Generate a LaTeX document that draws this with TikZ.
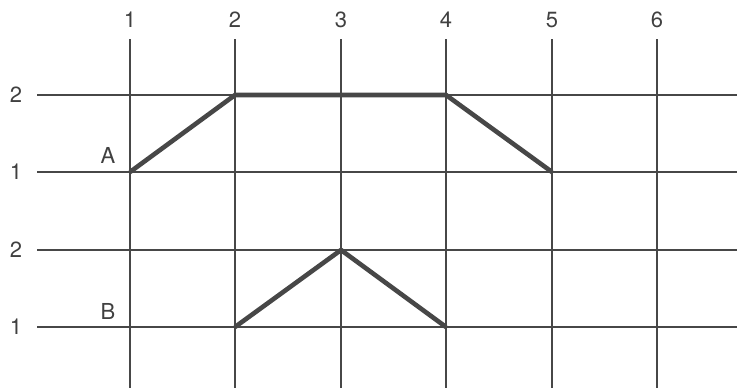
\documentclass[tikz,border=0pt]{standalone}
\usepackage{fontspec}
\setmainfont{TeX Gyre Heros}
\begin{document}
\begin{tikzpicture}[x=1pt,y=-1pt,
  gridline/.style={draw=black!72,line width=1.6pt},
  profile/.style={draw=black!72,line width=4.6pt,line join=round},
  lbl/.style={text=black!75,font=\fontsize{22}{22}\selectfont,inner sep=0pt}]
\useasboundingbox (0,0) rectangle (737,388);
% vertical grid lines and column numbers
\foreach \i/\x in {1/130,2/235,3/341,4/446,5/552,6/657}{
  \coordinate (vt\i) at (\x,39);
  \coordinate (vb\i) at (\x,388);
  \draw[gridline] (vt\i) -- (vb\i);
  \node[lbl] (col\i) at (\x,20) {\i};
}
% horizontal grid lines and row numbers
\foreach \j/\y/\t in {a/95/2,b/172/1,c/250/2,d/327/1}{
  \coordinate (hl\j) at (37,\y);
  \coordinate (hr\j) at (737,\y);
  \draw[gridline] (hl\j) -- (hr\j);
  \node[lbl] (row\j) at (16,\y) {\t};
}
% letters
\node[lbl] (labA) at (108,155) {A};
\node[lbl] (labB) at (108,311) {B};
% profile points
\coordinate (a1) at (130,172);
\coordinate (a2) at (235,95);
\coordinate (a3) at (446,95);
\coordinate (a4) at (552,172);
\coordinate (b1) at (235,327);
\coordinate (b2) at (341,250);
\coordinate (b3) at (446,327);
\draw[profile] (a1) -- (a2) -- (a3) -- (a4);
\draw[profile] (b1) -- (b2) -- (b3);
\end{tikzpicture}
\end{document}
